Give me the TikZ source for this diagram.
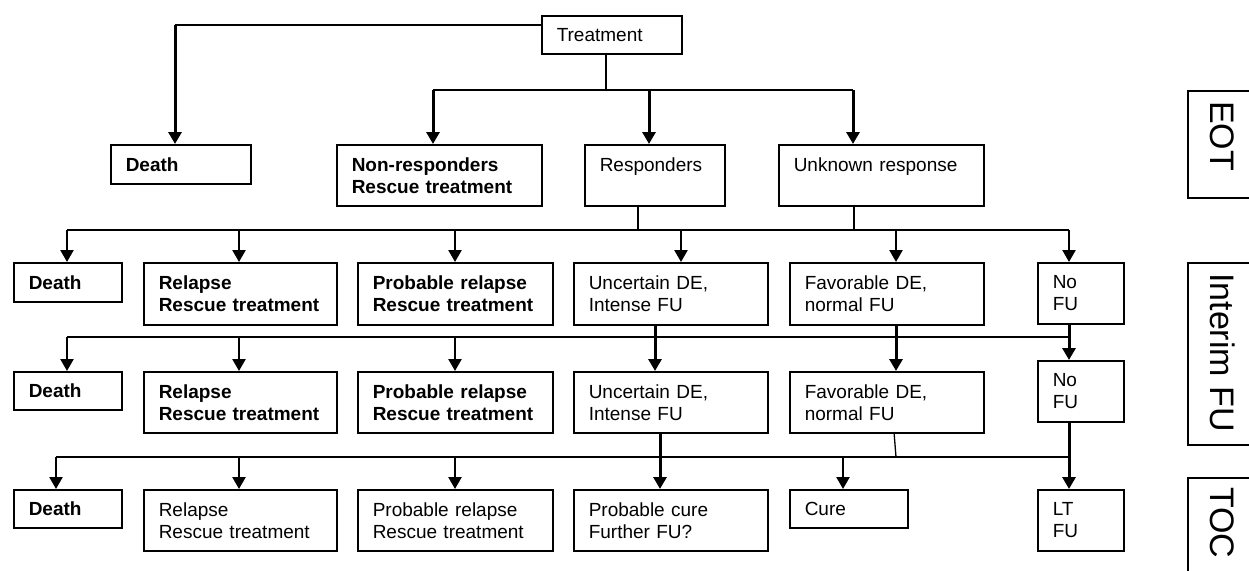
\documentclass[tikz,border=0pt]{standalone}
\usepackage{fontspec}
\setmainfont{Liberation Sans}
\usetikzlibrary{arrows.meta}
\begin{document}
\begin{tikzpicture}[x=1pt,y=-1pt,
  box/.style={draw, line width=1.5pt, inner xsep=15pt, inner ysep=0pt, align=left, anchor=north west, font=\fontsize{19}{22}\selectfont},
  bbox/.style={box, font=\fontsize{19}{22}\selectfont\bfseries},
  conn/.style={line width=1.3pt},
  arr/.style={line width=3pt, -{Triangle[width=13pt,length=12pt]}},
  arrm/.style={line width=2.4pt, -{Triangle[width=13pt,length=12pt]}},
  side/.style={line width=1.2pt},
  sidelbl/.style={rotate=-90, anchor=base west, inner sep=0pt, font=\fontsize{34}{40}\selectfont}]
\fill[white] (0,0) rectangle (1249,570);
\useasboundingbox (0,0) rectangle (1249,570);

% row 0
\node[box, text width=110pt, minimum height=38pt] (T) at (541,15) {Treatment};
% row 1
\node[bbox, text width=110pt, minimum height=39pt] (D1) at (110,144) {Death};
\node[bbox, text width=175pt, minimum height=61pt] (NR) at (336,144) {Non-responders\\Rescue~treatment};
\node[box, text width=110pt, minimum height=61pt] (R) at (584,144) {Responders\\~};
\node[box, text width=175pt, minimum height=61pt] (U) at (778,144) {Unknown~response\\~};
% row 2
\node[bbox, text width=78pt, minimum height=39pt] (D2) at (13,262) {Death};
\node[bbox, text width=163pt, minimum height=62pt] (RL2) at (143,262) {Relapse\\Rescue~treatment};
\node[bbox, text width=165pt, minimum height=62pt] (PR2) at (357,262) {Probable~relapse\\Rescue~treatment};
\node[box, text width=164pt, minimum height=62pt] (UC2) at (573,262) {Uncertain~DE,\\Intense~FU};
\node[box, text width=164pt, minimum height=62pt] (FV2) at (789,262) {Favorable~DE,\\normal~FU};
\node[box, text width=56pt, minimum height=61pt] (NF2) at (1037,262) {No\\FU};
% row 3
\node[bbox, text width=78pt, minimum height=38pt] (D3) at (13,371) {Death};
\node[bbox, text width=163pt, minimum height=61pt] (RL3) at (143,371) {Relapse\\Rescue~treatment};
\node[bbox, text width=165pt, minimum height=61pt] (PR3) at (357,371) {Probable~relapse\\Rescue~treatment};
\node[box, text width=164pt, minimum height=61pt] (UC3) at (573,371) {Uncertain~DE,\\Intense~FU};
\node[box, text width=164pt, minimum height=61pt] (FV3) at (789,371) {Favorable~DE,\\normal~FU};
\node[box, text width=56pt, minimum height=61pt] (NF3) at (1037,360) {No\\FU};
% row 4
\node[bbox, text width=78pt, minimum height=38pt] (D4) at (13,489) {Death};
\node[box, text width=163pt, minimum height=61pt] (RL4) at (143,489) {Relapse\\Rescue~treatment};
\node[box, text width=165pt, minimum height=61pt] (PR4) at (357,489) {Probable~relapse\\Rescue~treatment};
\node[box, text width=164pt, minimum height=61pt] (PC4) at (573,489) {Probable~cure\\Further~FU?};
\node[box, text width=88pt, minimum height=38pt] (CU4) at (789,489) {Cure};
\node[box, text width=56pt, minimum height=61pt] (LT4) at (1037,489) {LT\\FU};

% connectors: treatment level
\coordinate (tl) at (175,25);
\draw[conn] (T.west |- tl) -- (tl);
\draw[arr] (tl) -- (tl |- D1.north);
\coordinate (b1) at (606,90);
\coordinate (h1l) at (433,90);
\coordinate (h1m) at (649,90);
\coordinate (h1r) at (853,90);
\draw[conn] (b1 |- T.south) -- (b1);
\draw[conn] (h1l) -- (h1r);
\draw[arr] (h1l) -- (h1l |- NR.north);
\draw[arr] (h1m) -- (h1m |- R.north);
\draw[arr] (h1r) -- (h1r |- U.north);

% level 2 bus
\coordinate (r2a) at (67,230);
\coordinate (r2b) at (239,230);
\coordinate (r2c) at (455,230);
\coordinate (r2d) at (681,230);
\coordinate (r2e) at (896,230);
\coordinate (r2f) at (1069,230);
\coordinate (f2a) at (638,230);
\coordinate (f2b) at (854,230);
\draw[conn] (f2a |- R.south) -- (f2a);
\draw[conn] (f2b |- U.south) -- (f2b);
\draw[conn] (r2a) -- (r2f);
\draw[arrm] (r2a) -- (r2a |- D2.north);
\draw[arrm] (r2b) -- (r2b |- RL2.north);
\draw[arrm] (r2c) -- (r2c |- PR2.north);
\draw[arrm] (r2d) -- (r2d |- UC2.north);
\draw[arrm] (r2e) -- (r2e |- FV2.north);
\draw[arrm] (r2f) -- (r2f |- NF2.north);

% level 3 bus
\coordinate (r3a) at (67,337);
\coordinate (r3b) at (239,337);
\coordinate (r3c) at (455,337);
\coordinate (r3f) at (1069,337);
\coordinate (p3a) at (655,337);
\coordinate (p3b) at (896,337);
\draw[conn] (r3a) -- (r3f);
\draw[arrm] (r3a) -- (r3a |- D3.north);
\draw[arrm] (r3b) -- (r3b |- RL3.north);
\draw[arrm] (r3c) -- (r3c |- PR3.north);
\draw[arr] (p3a |- UC2.south) -- (p3a |- UC3.north);
\draw[arr] (p3b |- FV2.south) -- (p3b |- FV3.north);
\draw[arr] (r3f |- NF2.south) -- (r3f |- NF3.north);

% level 4 bus
\coordinate (r4a) at (56,457);
\coordinate (r4b) at (239,457);
\coordinate (r4c) at (455,457);
\coordinate (r4d) at (843,457);
\coordinate (r4f) at (1069,457);
\coordinate (p4a) at (660,457);
\coordinate (f4a) at (894,432);
\coordinate (f4b) at (896,457);
\draw[conn] (r4a) -- (r4f);
\draw[arrm] (r4a) -- (r4a |- D4.north);
\draw[arrm] (r4b) -- (r4b |- RL4.north);
\draw[arrm] (r4c) -- (r4c |- PR4.north);
\draw[arrm] (r4d) -- (r4d |- CU4.north);
\draw[arr] (p4a |- UC3.south) -- (p4a |- PC4.north);
\draw[conn] (f4a) -- (f4b);
\draw[arr] (r4f |- NF3.south) -- (r4f |- LT4.north);

% side labels
\draw[side] (1249,91) -- (1188,91) -- (1188,198) -- (1249,198);
\draw[side] (1249,263) -- (1188,263) -- (1188,445) -- (1249,445);
\draw[side] (1249,478) -- (1188,478) -- (1188,571);
\node[sidelbl] (eot) at (1210,101) {EOT};
\node[sidelbl] (ifu) at (1210,273) {Interim FU};
\node[sidelbl] (toc) at (1210,487) {TOC};
\end{tikzpicture}
\end{document}
